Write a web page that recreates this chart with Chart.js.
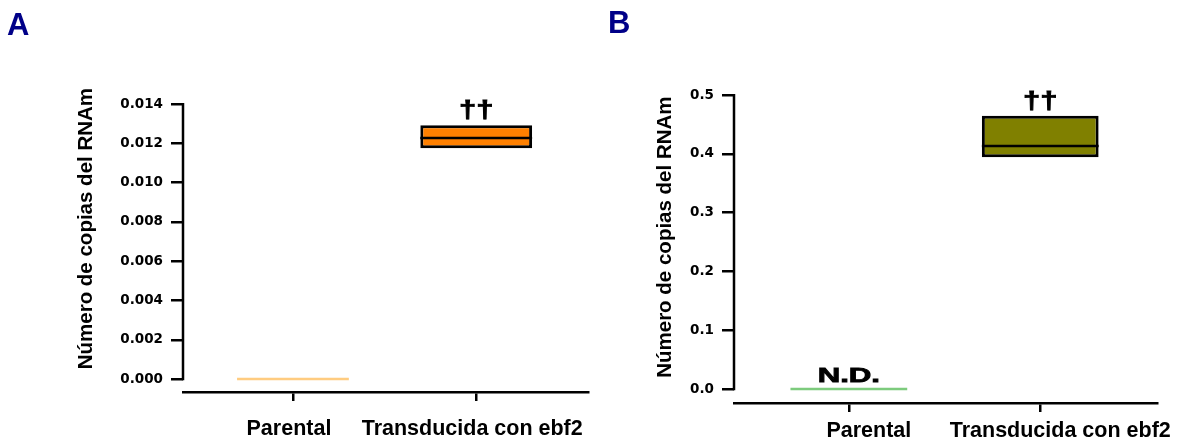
<!DOCTYPE html>
<html>
<head>
<meta charset="utf-8">
<script src="https://cdn.jsdelivr.net/npm/chart.js@4.4.1/dist/chart.umd.min.js"></script>
<style>
    html, body { margin: 0; padding: 0; background: #fff; }
    .panel { position: absolute; top: 0; height: 443px; }
    #panelA { left: 0; width: 600px; }
    #panelB { left: 600px; width: 587px; }
</style>
</head>
<body>
<div class="panel" id="panelA"><canvas id="chartA"></canvas></div>
<div class="panel" id="panelB"><canvas id="chartB"></canvas></div>
<script>
// Categories shared by both panels
const categories = ['Parental', 'Transducida con ebf2'];
const yTitle = 'Número de copias del RNAm';

// Panel A - box limits (Q1, median, Q3)
const aQ1 = [0, 0.01176];
const aMedian = [0, 0.01228];
const aQ3 = [0, 0.01293];
const aYTicks = [0, 0.002, 0.004, 0.006, 0.008, 0.010, 0.012, 0.014];
const aMarks = ['', '††'];

// Panel B - box limits (Q1, median, Q3)
const bQ1 = [0, 0.3944];
const bMedian = [0, 0.4136];
const bQ3 = [0, 0.4652];
const bYTicks = [0, 0.1, 0.2, 0.3, 0.4, 0.5];
const bMarks = ['N.D.', '††'];

const ARIAL = 'Arial, "Liberation Sans", sans-serif';

// Draws the y axis line (only over the tick range), the y title, the medians and the marks
const boxExtras = {
    id: 'boxExtras',
    afterDatasetsDraw(chart, args, opts) {
        const { ctx, chartArea, scales: { y } } = chart;
        const meta = chart.getDatasetMeta(0);
        const yBottom = y.getPixelForValue(opts.yTicks[0]);
        const yTop = y.getPixelForValue(opts.yTicks[opts.yTicks.length - 1]);
        ctx.save();

        // y axis line
        ctx.strokeStyle = '#000';
        ctx.lineWidth = 2.5;
        ctx.lineCap = 'square';
        ctx.beginPath();
        ctx.moveTo(chartArea.left, yBottom);
        ctx.lineTo(chartArea.left, yTop);
        ctx.stroke();
        ctx.lineCap = 'butt';

        // y axis title
        ctx.save();
        ctx.translate(chartArea.left - opts.titleOffset, (yBottom + yTop) / 2 + opts.titleShift);
        ctx.rotate(-Math.PI / 2);
        ctx.font = `bold 20.5px ${ARIAL}`;
        ctx.fillStyle = '#000';
        ctx.textAlign = 'center';
        ctx.textBaseline = 'middle';
        ctx.fillText(yTitle, 0, 0);
        ctx.restore();

        meta.data.forEach((bar, i) => {
            const { x: cx, width } = bar.getProps(['x', 'width'], true);
            const my = y.getPixelForValue(opts.medians[i]);
            ctx.strokeStyle = opts.medianColors[i];
            ctx.lineWidth = 2.5;
            ctx.beginPath();
            ctx.moveTo(cx - width / 2, my);
            ctx.lineTo(cx + width / 2, my);
            ctx.stroke();

            if (opts.marks[i]) {
                const top = y.getPixelForValue(opts.tops[i]);
                ctx.save();
                ctx.translate(cx, top - opts.markGaps[i]);
                ctx.scale(opts.markStretch[i], 1);
                ctx.font = `bold ${opts.markSizes[i]}px ${ARIAL}`;
                ctx.fillStyle = '#000';
                ctx.strokeStyle = '#000';
                ctx.lineWidth = 0.8;
                ctx.textAlign = 'center';
                ctx.textBaseline = 'alphabetic';
                ctx.fillText(opts.marks[i], 0, 0);
                ctx.strokeText(opts.marks[i], 0, 0);
                ctx.restore();
            }
        });
        ctx.restore();
    }
};

function buildChart(canvasId, p) {
    return new Chart(document.getElementById(canvasId), {
        type: 'bar',
        data: {
            datasets: [{
                data: categories.map((c, i) => ({ x: i, y: [p.q1[i], p.q3[i]] })),
                backgroundColor: p.fill,
                borderColor: ['rgba(0,0,0,0)', '#000'],
                borderWidth: [0, 3],
                borderSkipped: false,
                grouped: false,
                barPercentage: 0.61,
                categoryPercentage: 1
            }]
        },
        options: {
            responsive: true,
            maintainAspectRatio: false,
            animation: false,
            events: [],
            layout: { padding: { left: p.padLeft, right: p.padRight, top: 0, bottom: 0 } },
            plugins: {
                legend: { display: false },
                tooltip: { enabled: false },
                title: {
                    display: true,
                    text: p.letter,
                    align: 'start',
                    color: '#000088',
                    font: { family: ARIAL, size: 31, weight: 'bold' },
                    padding: { top: p.letterTop, bottom: p.letterBottom }
                },
                boxExtras: {
                    yTicks: p.yTicks,
                    medians: p.median,
                    tops: p.q3,
                    medianColors: [p.fill[0], '#000'],
                    marks: p.marks,
                    markGaps: [7, 7],
                    markSizes: [19.5, 23],
                    markStretch: [1.6, 1.35],
                    titleOffset: p.titleOffset,
                    titleShift: p.titleShift
                }
            },
            scales: {
                x: {
                    type: 'linear',
                    offset: false,
                    min: -0.6,
                    max: 1.61,
                    afterBuildTicks: s => { s.ticks = categories.map((c, i) => ({ value: i })); },
                    afterFit: s => { s.height = p.xHeight; s.paddingLeft = 0; s.paddingRight = 0; },
                    ticks: {
                        callback: v => categories[v],
                        color: '#000',
                        font: { family: ARIAL, size: 21.5, weight: 'bold' },
                        padding: p.xLabelPad,
                        labelOffset: p.labelOffset,
                        maxRotation: 0,
                        autoSkip: false
                    },
                    grid: { offset: false, drawOnChartArea: false, tickLength: 9, color: '#000', lineWidth: 2.5 },
                    border: { display: true, color: '#000', width: 2.5 }
                },
                y: {
                    min: p.yMin,
                    max: p.yTicks[p.yTicks.length - 1],
                    afterBuildTicks: s => { s.ticks = p.yTicks.map(v => ({ value: v })); },
                    afterFit: s => { s.width = p.yWidth; },
                    ticks: {
                        callback: v => v.toFixed(p.decimals),
                        color: '#000',
                        font: { family: '"DejaVu Sans"', size: 13.5, weight: 'bold' },
                        padding: 8
                    },
                    grid: { drawOnChartArea: false, tickLength: 12, color: '#000', lineWidth: 2.5 },
                    border: { display: false }
                }
            }
        },
        plugins: [boxExtras]
    });
}

buildChart('chartA', {
    letter: 'A', letterTop: 8, letterBottom: 59,
    q1: aQ1, median: aMedian, q3: aQ3, yTicks: aYTicks, marks: aMarks,
    yMin: -0.00066, decimals: 3,
    fill: ['#FFCC80', '#FF8000'],
    padLeft: 7, padRight: 12, yWidth: 176,
    titleOffset: 97, titleShift: -13,
    xHeight: 51, xLabelPad: 15, labelOffset: -4
});

buildChart('chartB', {
    letter: 'B', letterTop: 6, letterBottom: 52,
    q1: bQ1, median: bMedian, q3: bQ3, yTicks: bYTicks, marks: bMarks,
    yMin: -0.0237, decimals: 1,
    fill: ['#7DCB7D', '#808000'],
    padLeft: 8, padRight: 30, yWidth: 126,
    titleOffset: 69, titleShift: -5,
    xHeight: 40, xLabelPad: 6, labelOffset: 20
});
</script>
</body>
</html>
